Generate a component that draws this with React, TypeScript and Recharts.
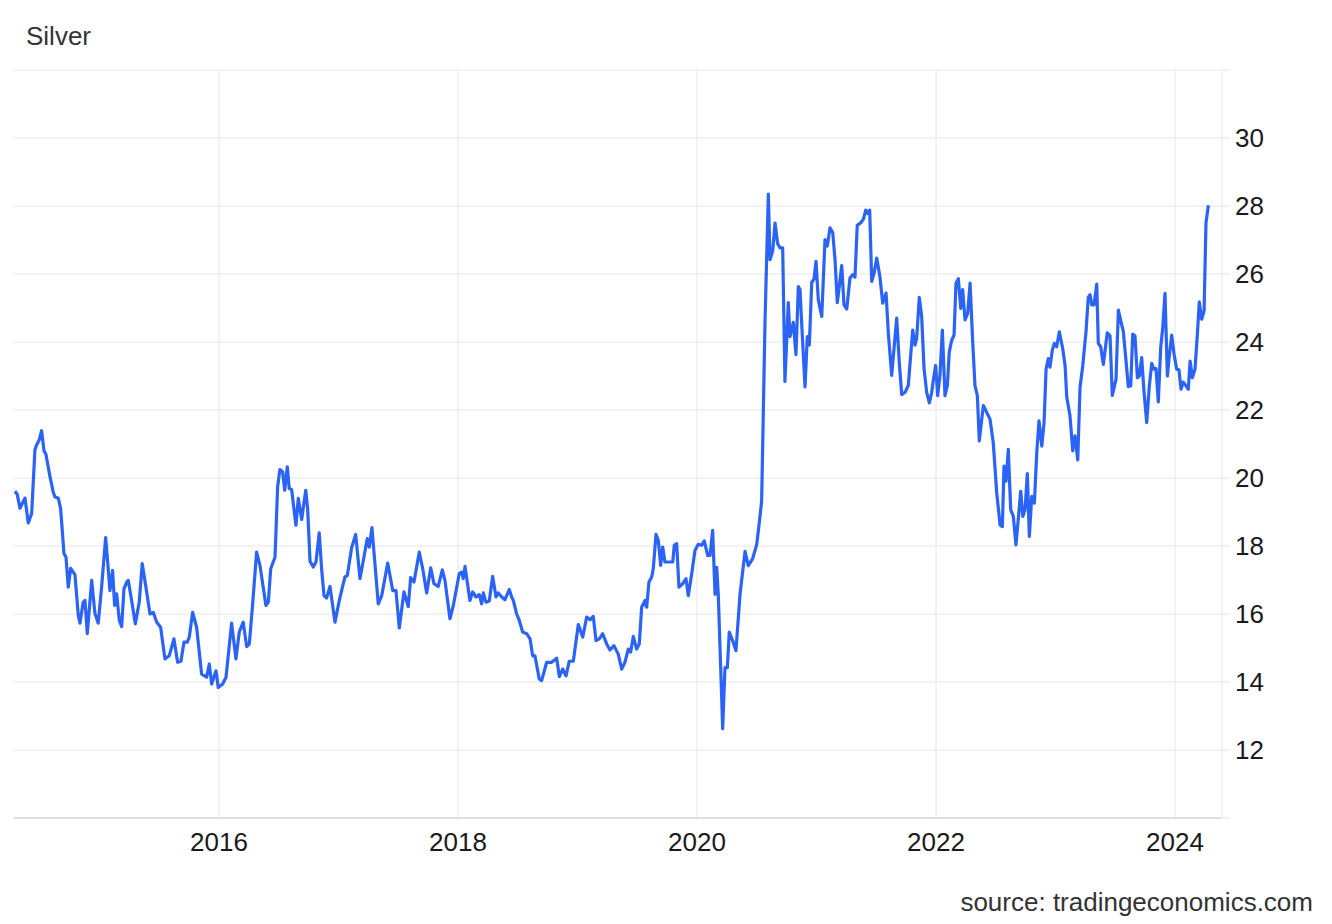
import React from 'react';
import { LineChart, Line, XAxis, YAxis, CartesianGrid } from 'recharts';

// decimal-year time stamps of each point
const dates = [
  // 2014
  2014.293, 2014.312, 2014.335, 2014.377, 2014.404, 2014.433, 2014.460, 2014.474, 2014.496, 2014.516,
  2014.536, 2014.552, 2014.586, 2014.613, 2014.628, 2014.655, 2014.675, 2014.703, 2014.720, 2014.739,
  2014.759, 2014.795, 2014.823, 2014.837, 2014.864, 2014.879, 2014.898, 2014.935, 2014.962, 2014.990,
  // 2015
  2015.018, 2015.052, 2015.088, 2015.110, 2015.127, 2015.144, 2015.166, 2015.186, 2015.205, 2015.228,
  2015.241, 2015.269, 2015.300, 2015.333, 2015.358, 2015.389, 2015.423, 2015.450, 2015.479, 2015.512,
  2015.548, 2015.584, 2015.623, 2015.654, 2015.682, 2015.707, 2015.735, 2015.751, 2015.780, 2015.813,
  2015.855, 2015.897, 2015.919, 2015.939, 2015.975, 2015.994,
  // 2016
  2016.031, 2016.059, 2016.106, 2016.142, 2016.170, 2016.203, 2016.232, 2016.254, 2016.282, 2016.315,
  2016.343, 2016.393, 2016.413, 2016.433, 2016.469, 2016.491, 2016.510, 2016.533, 2016.550, 2016.572,
  2016.588, 2016.608, 2016.644, 2016.664, 2016.692, 2016.726, 2016.742, 2016.762, 2016.789, 2016.812,
  2016.839, 2016.859, 2016.879, 2016.901, 2016.929, 2016.971,
  // 2017
  2017.007, 2017.054, 2017.074, 2017.110, 2017.144, 2017.180, 2017.213, 2017.241, 2017.258, 2017.280,
  2017.333, 2017.362, 2017.412, 2017.454, 2017.481, 2017.509, 2017.548, 2017.584, 2017.604, 2017.632,
  2017.676, 2017.705, 2017.738, 2017.772, 2017.799, 2017.835, 2017.869, 2017.891, 2017.933, 2017.961,
  // 2018
  2018.011, 2018.031, 2018.044, 2018.059, 2018.100, 2018.123, 2018.151, 2018.178, 2018.198, 2018.212,
  2018.234, 2018.262, 2018.290, 2018.318, 2018.337, 2018.366, 2018.393, 2018.429, 2018.449, 2018.463,
  2018.491, 2018.513, 2018.541, 2018.575, 2018.603, 2018.625, 2018.644, 2018.680, 2018.700, 2018.742,
  2018.784, 2018.826, 2018.848, 2018.876, 2018.904, 2018.931, 2018.965,
  // 2019
  2019.007, 2019.044, 2019.077, 2019.105, 2019.132, 2019.155, 2019.182, 2019.211, 2019.244, 2019.272,
  2019.305, 2019.341, 2019.370, 2019.397, 2019.425, 2019.445, 2019.467, 2019.495, 2019.517, 2019.537,
  2019.565, 2019.579, 2019.598, 2019.621, 2019.634, 2019.657, 2019.676, 2019.696, 2019.713, 2019.732,
  2019.774, 2019.797, 2019.810, 2019.830, 2019.849, 2019.880, 2019.908, 2019.927, 2019.956, 2019.983,
  // 2020
  2020.011, 2020.039, 2020.061, 2020.090, 2020.109, 2020.131, 2020.151, 2020.165, 2020.178, 2020.215,
  2020.234, 2020.254, 2020.270, 2020.299, 2020.326, 2020.360, 2020.402, 2020.429, 2020.466, 2020.500,
  2020.521, 2020.541, 2020.555, 2020.569, 2020.597, 2020.611, 2020.634, 2020.653, 2020.675, 2020.695,
  2020.717, 2020.736, 2020.764, 2020.778, 2020.806, 2020.828, 2020.848, 2020.862, 2020.876, 2020.904,
  2020.923, 2020.940, 2020.960, 2020.979, 2020.996,
  // 2021
  2021.015, 2021.044, 2021.071, 2021.090, 2021.113, 2021.136, 2021.155, 2021.174, 2021.191, 2021.211,
  2021.230, 2021.253, 2021.280, 2021.303, 2021.322, 2021.341, 2021.370, 2021.392, 2021.412, 2021.428,
  2021.445, 2021.462, 2021.481, 2021.504, 2021.531, 2021.554, 2021.582, 2021.601, 2021.629, 2021.671,
  2021.693, 2021.713, 2021.741, 2021.768, 2021.788, 2021.805, 2021.824, 2021.838, 2021.860, 2021.880,
  2021.900, 2021.922, 2021.944, 2021.964, 2021.977, 2021.997,
  // 2022
  2022.014, 2022.033, 2022.053, 2022.075, 2022.095, 2022.111, 2022.131, 2022.151, 2022.167, 2022.187,
  2022.207, 2022.223, 2022.243, 2022.265, 2022.285, 2022.307, 2022.326, 2022.346, 2022.362, 2022.396,
  2022.424, 2022.452, 2022.479, 2022.508, 2022.536, 2022.555, 2022.569, 2022.586, 2022.605, 2022.625,
  2022.647, 2022.669, 2022.689, 2022.709, 2022.726, 2022.745, 2022.764, 2022.781, 2022.801, 2022.823,
  2022.843, 2022.862, 2022.885, 2022.904, 2022.921, 2022.940, 2022.954, 2022.973, 2022.990,
  // 2023
  2023.010, 2023.032, 2023.060, 2023.080, 2023.094, 2023.121, 2023.144, 2023.163, 2023.186, 2023.205,
  2023.228, 2023.255, 2023.274, 2023.289, 2023.303, 2023.322, 2023.345, 2023.358, 2023.378, 2023.400,
  2023.433, 2023.456, 2023.475, 2023.506, 2023.526, 2023.546, 2023.567, 2023.590, 2023.609, 2023.629,
  2023.646, 2023.665, 2023.685, 2023.701, 2023.721, 2023.741, 2023.763, 2023.785, 2023.805, 2023.824,
  2023.841, 2023.860, 2023.880, 2023.897, 2023.916, 2023.936, 2023.952, 2023.972, 2023.992,
  // 2024
  2024.014, 2024.033, 2024.050, 2024.069, 2024.092, 2024.111, 2024.126, 2024.145, 2024.167, 2024.187,
  2024.203, 2024.223, 2024.243, 2024.259, 2024.279,
];

// silver price, USD/t.oz
const prices = [
  // 2014
  19.61, 19.52, 19.11, 19.41, 18.68, 18.96, 20.82, 20.97, 21.12, 21.39,
  20.80, 20.70, 20.04, 19.59, 19.44, 19.41, 19.11, 17.78, 17.67, 16.79,
  17.34, 17.16, 15.95, 15.73, 16.35, 16.40, 15.42, 16.99, 16.02, 15.73,
  // 2015
  16.79, 18.25, 16.69, 17.28, 16.25, 16.59, 15.81, 15.63, 16.74, 16.94,
  16.99, 16.40, 15.71, 16.35, 17.48, 16.79, 16.00, 16.05, 15.76, 15.61,
  14.68, 14.77, 15.27, 14.58, 14.61, 15.17, 15.17, 15.31, 16.05, 15.61,
  14.23, 14.14, 14.53, 13.94, 14.33, 13.84,
  // 2016
  13.94, 14.14, 15.73, 14.68, 15.47, 15.76, 15.04, 15.12, 16.30, 17.82,
  17.43, 16.25, 16.35, 17.33, 17.67, 19.74, 20.25, 20.18, 19.64, 20.33,
  19.69, 19.66, 18.61, 19.40, 18.78, 19.64, 19.10, 17.55, 17.38, 17.53,
  18.39, 17.33, 16.54, 16.47, 16.81, 15.76,
  // 2017
  16.40, 17.09, 17.13, 17.95, 18.34, 17.04, 17.67, 18.22, 17.97, 18.54,
  16.30, 16.54, 17.50, 16.69, 16.69, 15.59, 16.65, 16.22, 17.07, 16.94,
  17.82, 17.33, 16.62, 17.36, 16.89, 16.81, 17.30, 16.99, 15.86, 16.25,
  // 2018
  17.19, 17.23, 17.04, 17.40, 16.40, 16.65, 16.50, 16.57, 16.30, 16.62,
  16.35, 16.38, 17.11, 16.50, 16.62, 16.50, 16.42, 16.72, 16.50, 16.40,
  16.00, 15.81, 15.47, 15.42, 15.27, 14.77, 14.77, 14.09, 14.04, 14.58,
  14.58, 14.70, 14.16, 14.38, 14.18, 14.61, 14.61,
  // 2019
  15.69, 15.32, 15.91, 15.83, 15.93, 15.22, 15.27, 15.42, 15.12, 14.94,
  15.07, 14.82, 14.38, 14.58, 14.97, 14.88, 15.34, 14.97, 15.12, 16.20,
  16.40, 16.20, 16.94, 17.09, 17.33, 18.34, 18.17, 17.43, 17.97, 17.53,
  17.53, 17.53, 18.02, 18.07, 16.79, 16.89, 17.04, 16.54, 17.19, 17.87,
  // 2020
  18.05, 18.02, 18.15, 17.72, 17.72, 18.46, 16.58, 17.37, 16.58, 12.63,
  14.42, 14.42, 15.47, 15.21, 14.92, 16.58, 17.84, 17.42, 17.63, 18.05,
  18.68, 19.32, 21.95, 24.58, 28.35, 26.42, 26.68, 27.50, 26.89, 26.77,
  26.77, 22.84, 25.16, 24.16, 24.58, 23.63, 25.63, 25.54, 24.55, 22.68,
  24.16, 23.91, 25.75, 25.85, 26.37,
  // 2021
  25.24, 24.75, 27.01, 26.82, 27.36, 27.21, 26.42, 25.16, 25.64, 26.25,
  25.09, 24.97, 25.88, 25.98, 25.91, 27.43, 27.51, 27.61, 27.88, 27.78,
  27.88, 25.78, 26.01, 26.47, 25.91, 25.14, 25.44, 24.26, 23.02, 24.70,
  23.37, 22.45, 22.52, 22.72, 23.61, 24.35, 23.91, 24.10, 25.31, 24.75,
  23.21, 22.52, 22.21, 22.52, 22.87, 23.31,
  // 2022
  22.42, 23.02, 24.35, 22.42, 22.72, 23.71, 24.05, 24.20, 25.73, 25.86,
  24.99, 25.54, 24.65, 24.84, 25.73, 24.00, 22.72, 22.42, 21.09, 22.13,
  21.93, 21.73, 21.04, 19.56, 18.62, 18.57, 20.35, 19.91, 20.84, 19.07,
  18.87, 18.03, 18.82, 19.61, 18.87, 19.07, 20.13, 18.28, 19.46, 19.26,
  20.75, 21.68, 20.94, 21.63, 23.21, 23.51, 23.26, 23.76, 23.96,
  // 2023
  23.86, 24.30, 23.81, 23.31, 22.38, 21.83, 20.80, 21.24, 20.53, 22.67,
  23.31, 24.30, 25.31, 25.39, 25.09, 25.09, 25.70, 23.96, 23.86, 23.34,
  24.27, 24.18, 22.43, 22.90, 24.94, 24.62, 24.32, 23.44, 22.69, 22.71,
  24.23, 24.18, 22.95, 23.00, 23.54, 22.51, 21.63, 22.71, 23.37, 23.20,
  23.22, 22.24, 23.83, 24.42, 25.43, 23.00, 23.59, 24.20, 23.64,
  // 2024
  23.20, 23.18, 22.61, 22.82, 22.71, 22.61, 23.44, 22.95, 23.20, 24.23,
  25.18, 24.67, 24.91, 27.51, 28.02,
];

const xTicks = [2016, 2018, 2020, 2022, 2024];
const yTicks = [10, 12, 14, 16, 18, 20, 22, 24, 26, 28, 30, 32];
const xDomain = [2014.285, 2024.393];
const yDomain = [10, 32];
const title = 'Silver';
const sourceText = 'source: tradingeconomics.com';

const data = dates.map((t, i) => ({ t, price: prices[i] }));

const FONT = '"Liberation Sans", Arial, Helvetica, sans-serif';

export default function App() {
  return (
    <div
      style={{
        position: 'absolute',
        left: 0,
        top: 0,
        width: 1332,
        height: 924,
        background: '#ffffff',
        fontFamily: FONT,
      }}
    >
      <LineChart
        width={1332}
        height={924}
        data={data}
        margin={{ top: 70, right: 0, bottom: 66, left: 14 }}
      >
        <CartesianGrid stroke="#e6e6e6" strokeWidth={1} verticalValues={xTicks} horizontalValues={yTicks} />
        <XAxis
          dataKey="t"
          type="number"
          domain={xDomain}
          ticks={xTicks}
          interval={0}
          allowDataOverflow
          height={40}
          tickSize={0}
          tickMargin={15}
          axisLine={{ stroke: '#cccccc' }}
          tickLine={false}
          tickFormatter={(v) => String(Math.round(v))}
          tick={{ fill: '#1a1a1a', fontSize: 26, fontFamily: FONT }}
        />
        <YAxis
          orientation="right"
          type="number"
          domain={yDomain}
          ticks={yTicks}
          interval={0}
          allowDataOverflow
          width={110}
          tickSize={8}
          tickMargin={5}
          axisLine={{ stroke: '#e6e6e6' }}
          tickLine={{ stroke: '#e6e6e6' }}
          tickFormatter={(v) => (v === 10 || v === 32 ? '' : String(v))}
          tick={{ fill: '#1a1a1a', fontSize: 26, fontFamily: FONT, textAnchor: 'start' }}
        />
        <Line
          type="linear"
          dataKey="price"
          stroke="#2b63f5"
          strokeWidth={3.2}
          dot={false}
          activeDot={false}
          isAnimationActive={false}
          strokeLinejoin="round"
        />
      </LineChart>
      <svg
        width={1332}
        height={924}
        style={{ position: 'absolute', left: 0, top: 0, pointerEvents: 'none' }}
      >
        <text x={26} y={45} fontSize={26} fill="#333333" fontFamily={FONT}>
          {title}
        </text>
        <text x={1313} y={911} fontSize={26} fill="#333333" fontFamily={FONT} textAnchor="end">
          {sourceText}
        </text>
      </svg>
    </div>
  );
}
